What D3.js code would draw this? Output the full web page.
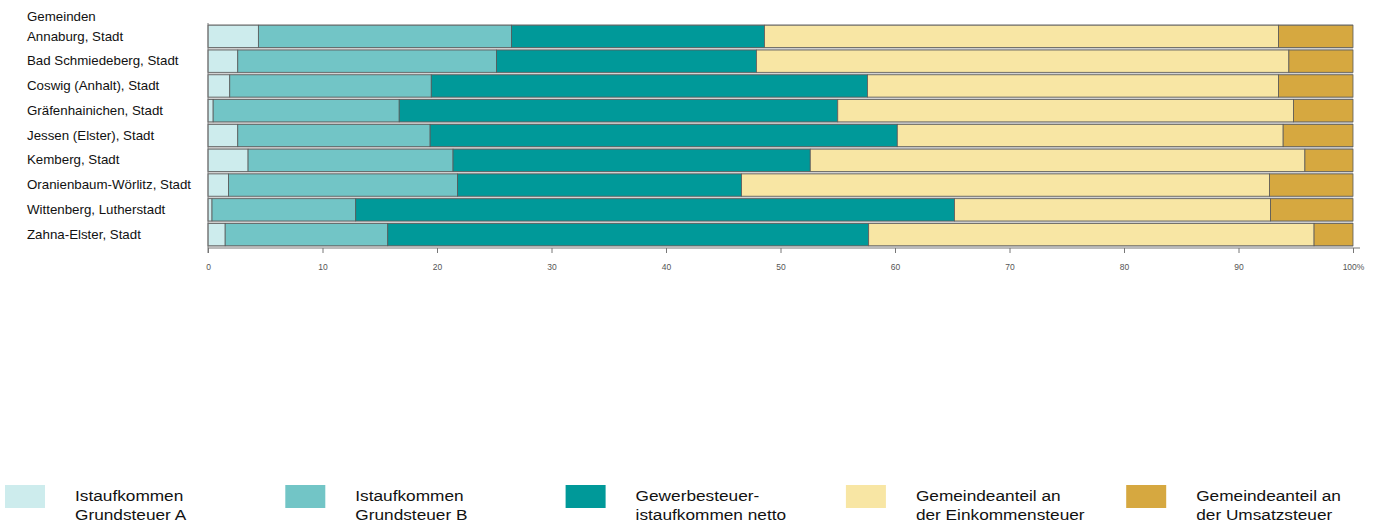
<!DOCTYPE html>
<html>
<head>
<meta charset="utf-8">
<script src="https://cdn.jsdelivr.net/npm/d3@7"></script>
<style>
body { margin:0; background:#fff; }
text { font-family: "Liberation Sans", Arial, sans-serif; }
</style>
</head>
<body>
<div id="chart"></div>
<script>
var gemeinden = ["Annaburg, Stadt","Bad Schmiedeberg, Stadt","Coswig (Anhalt), Stadt","Gräfenhainichen, Stadt","Jessen (Elster), Stadt","Kemberg, Stadt","Oranienbaum-Wörlitz, Stadt","Wittenberg, Lutherstadt","Zahna-Elster, Stadt"];
var grundA   = [4.4, 2.6, 1.9, 0.45, 2.6, 3.5, 1.8, 0.35, 1.5];
var grundB   = [22.1, 22.6, 17.6, 16.25, 16.8, 17.9, 20.0, 12.55, 14.2];
var gewerbe  = [22.1, 22.7, 38.1, 38.3, 40.8, 31.2, 24.8, 52.3, 42.0];
var einkomm  = [44.9, 46.5, 35.9, 39.8, 33.7, 43.2, 46.1, 27.6, 38.9];
var umsatz   = [6.5, 5.6, 6.5, 5.2, 6.1, 4.2, 7.3, 7.2, 3.4];
var seriesNames = [["Istaufkommen","Grundsteuer A"],["Istaufkommen","Grundsteuer B"],["Gewerbesteuer-","istaufkommen netto"],["Gemeindeanteil an","der Einkommensteuer"],["Gemeindeanteil an","der Umsatzsteuer"]];
var colors = ["#cdeced","#72c5c6","#009999","#f8e6a4","#d6a840"];
var ticks = [0,10,20,30,40,50,60,70,80,90,100];

var W = 1383, H = 524;
var svg = d3.select("#chart").append("svg").attr("width", W).attr("height", H);

var x = d3.scaleLinear().domain([0,100]).range([208, 1353]);
var y = d3.scaleBand().domain(gemeinden).range([24, 247]).paddingInner(0.1).paddingOuter(0.05);

var table = gemeinden.map(function(g, i){
  return {name:g, vals:[grundA[i], grundB[i], gewerbe[i], einkomm[i], umsatz[i]]};
});

// grey band behind each row
svg.append("g").selectAll("rect").data(gemeinden).enter().append("rect")
  .attr("x", x(0)).attr("width", x(100)-x(0))
  .attr("y", function(d){ return y(d) - y.step()*y.paddingInner()/2; })
  .attr("height", y.step())
  .attr("fill", "#c4c4c4");

var rows = svg.append("g").selectAll("g").data(table).enter().append("g");
rows.each(function(d){
  var acc = 0;
  var segs = d.vals.map(function(v, k){ var s = {x0:acc, x1:acc+v, k:k}; acc += v; return s; });
  d3.select(this).selectAll("rect").data(segs).enter().append("rect")
    .attr("x", function(s){ return x(s.x0); })
    .attr("width", function(s){ return Math.max(0, x(s.x1) - x(s.x0)); })
    .attr("y", y(d.name))
    .attr("height", y.bandwidth())
    .attr("fill", function(s){ return colors[s.k]; })
    .attr("stroke", "#5a5a5a")
    .attr("stroke-width", 0.8);
});

// labels (slightly stretched, like the original renderer)
var lab = svg.append("g").attr("transform", "translate(27,0) scale(1.11,1)");
lab.append("text").attr("x", 0).attr("y", 21).attr("font-size", 12).attr("fill", "#111").text("Gemeinden");
lab.selectAll(".cat").data(gemeinden).enter().append("text")
  .attr("class", "cat")
  .attr("x", 0)
  .attr("y", function(d){ return y(d) + y.bandwidth()/2; })
  .attr("dy", "0.35em")
  .attr("font-size", 12)
  .attr("fill", "#111")
  .text(function(d){ return d; });

// axis
var axis = svg.append("g").attr("transform", "translate(0,248)")
  .call(d3.axisBottom(x).tickValues(ticks).tickSize(5).tickPadding(11)
    .tickFormat(function(d){ return d === 100 ? "100%" : d; }));
axis.select(".domain").attr("stroke", "#777").attr("d", "M208,0H1360");
axis.selectAll(".tick line").attr("stroke", "#777");
axis.selectAll(".tick text").attr("font-size", 8.5).attr("fill", "#555")
  .attr("font-family", "Liberation Sans, Arial, sans-serif");
svg.append("line").attr("x1", 208).attr("x2", 208).attr("y1", 23).attr("y2", 253).attr("stroke", "#777");

// legend
var leg = svg.append("g").selectAll("g").data(seriesNames).enter().append("g")
  .attr("transform", function(d, i){ return "translate(" + (5 + i*280.3) + ",485)"; });
leg.append("rect").attr("width", 40).attr("height", 23).attr("fill", function(d, i){ return colors[i]; });
var lt = leg.append("g").attr("transform", "translate(70,0) scale(1.15,1)");
lt.append("text").attr("x", 0).attr("y", 16).attr("font-size", 15).attr("fill", "#111").text(function(d){ return d[0]; });
lt.append("text").attr("x", 0).attr("y", 35).attr("font-size", 15).attr("fill", "#111").text(function(d){ return d[1]; });
</script>
</body>
</html>
